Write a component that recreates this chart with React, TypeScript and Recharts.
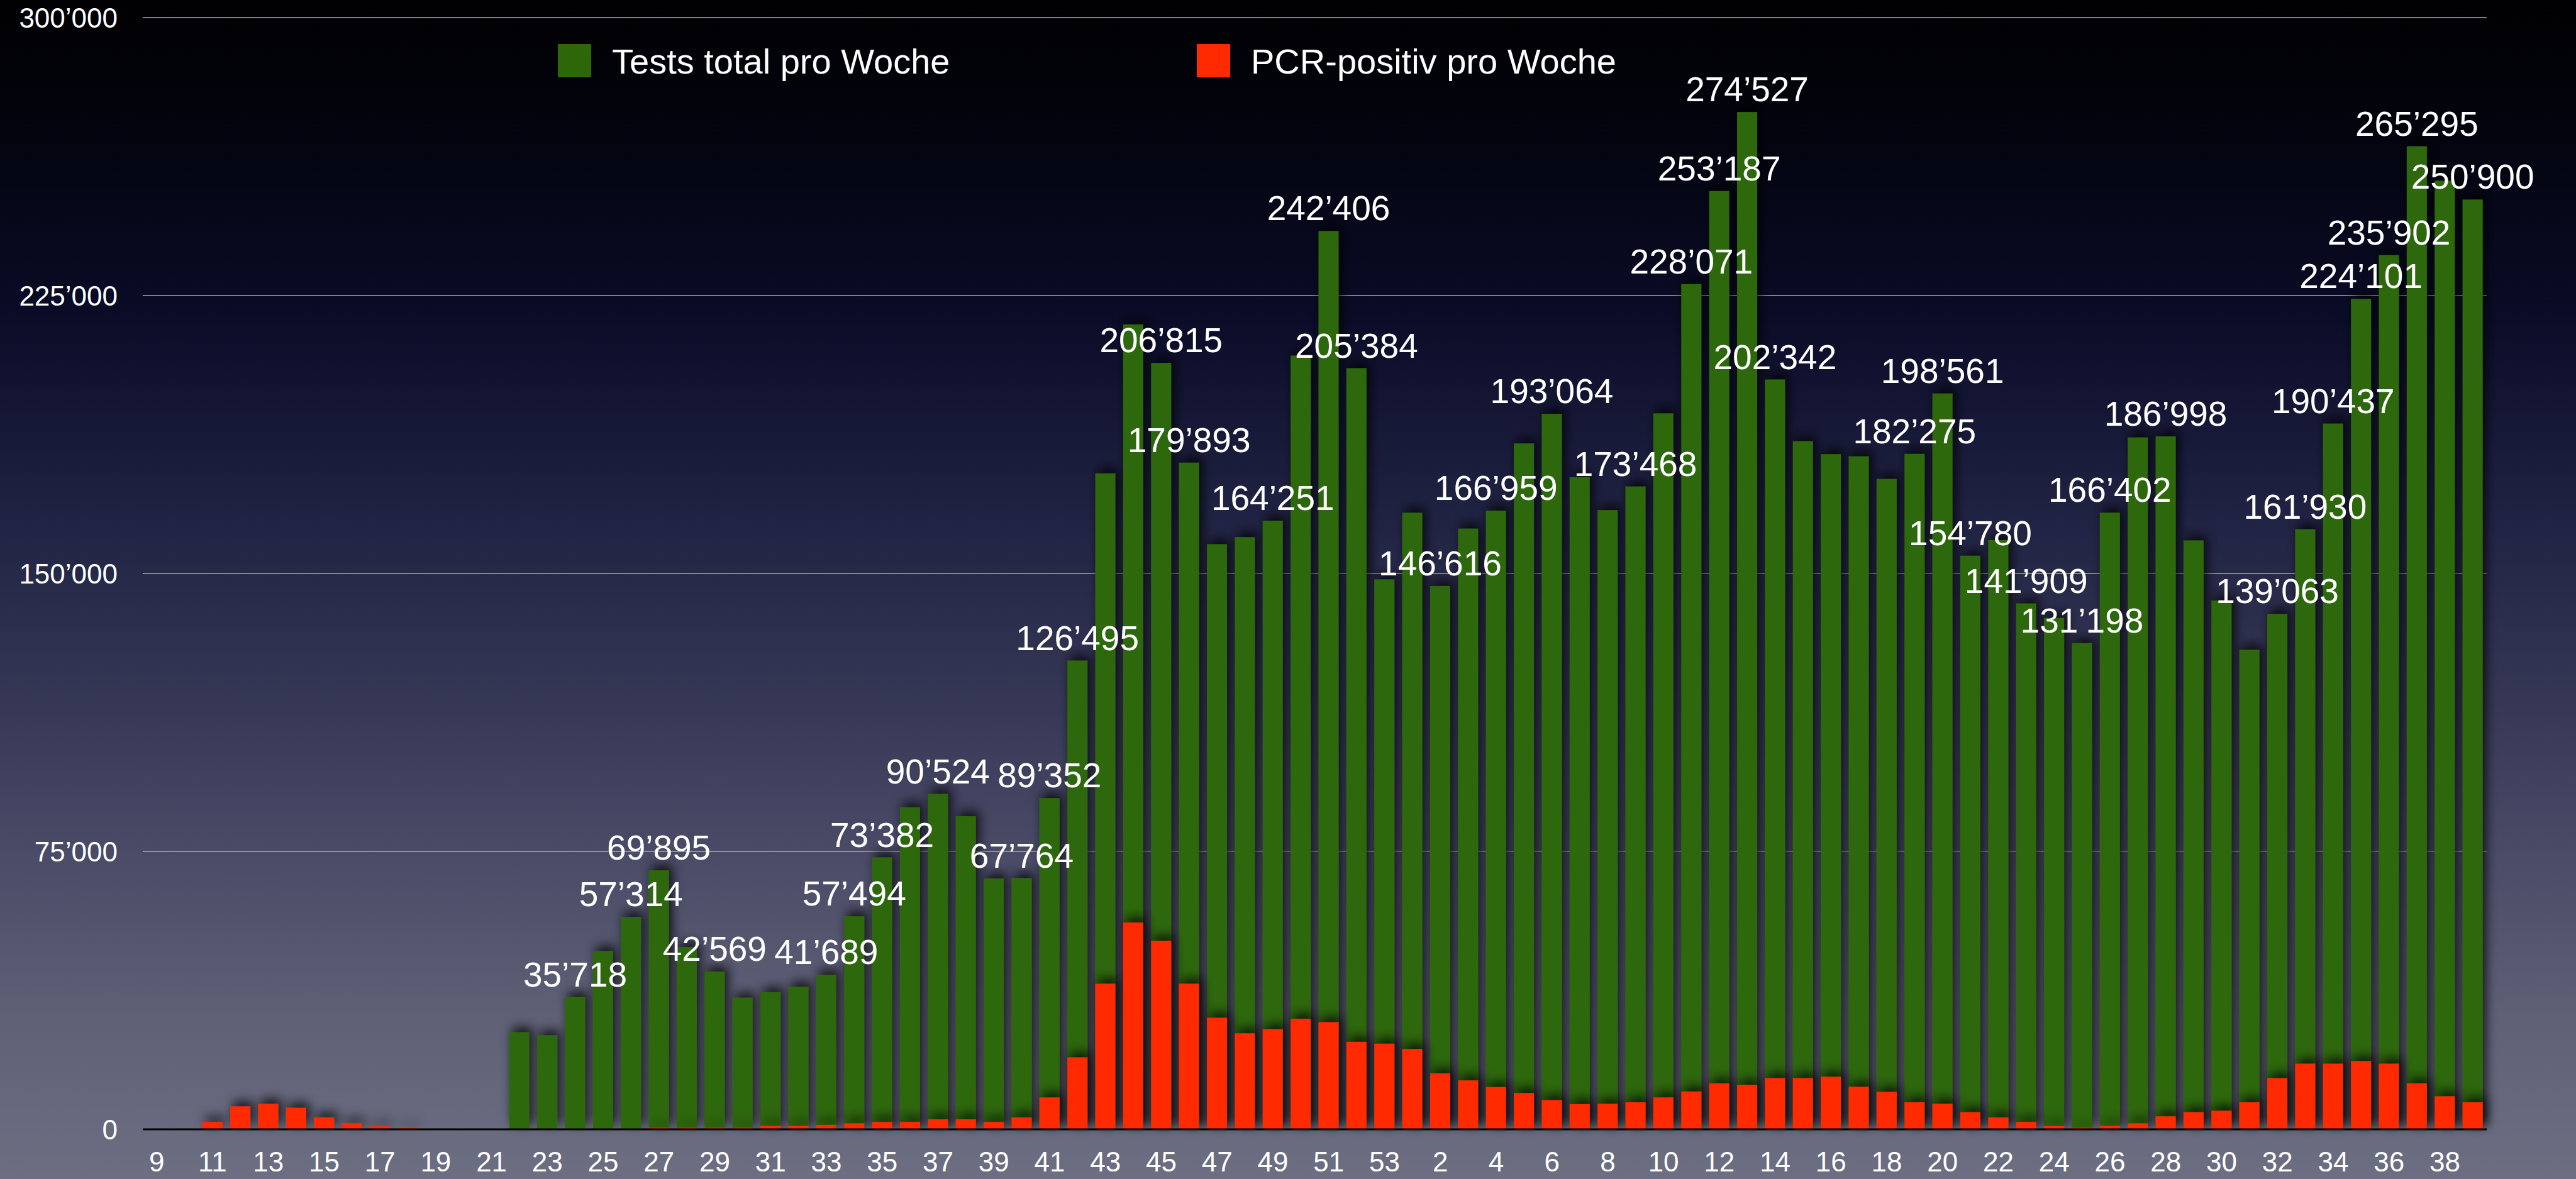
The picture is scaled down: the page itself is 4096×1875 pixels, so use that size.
import React from 'react';
import { BarChart, Bar, XAxis, YAxis, CartesianGrid, LabelList, Legend } from 'recharts';

// ---------- data ----------
const weeks2020 = [9, 10, 11, 12, 13, 14, 15, 16, 17, 18, 19, 20, 21, 22, 23, 24, 25, 26, 27, 28, 29, 30, 31, 32, 33, 34, 35, 36, 37, 38, 39, 40, 41, 42, 43, 44, 45, 46, 47, 48, 49, 50, 51, 52, 53];
const weeks2021 = [1, 2, 3, 4, 5, 6, 7, 8, 9, 10, 11, 12, 13, 14, 15, 16, 17, 18, 19, 20, 21, 22, 23, 24, 25, 26, 27, 28, 29, 30, 31, 32, 33, 34, 35, 36, 37, 38, 39];

const testsTotal2020 = [
  null, null, null, null, null, null, null, null, null, null, null, null, null,
  26200, 25400, 35718, 48100, 57314, 69895, 49200, 42569, 35500, 37000, 38500, 41689, 57494,
  73382, 86900, 90524, 84500, 67700, 67764, 89352, 126495, 177000, 217200, 206815, 179893,
  157900, 159800, 164251, 208800, 242406, 205384, 148400,
];
const testsTotal2021 = [
  166400, 146616, 162100, 166959, 185100, 193064, 176000, 167100, 173468, 193200, 228071,
  253187, 274527, 202342, 185700, 182200, 181600, 175500, 182275, 198561, 154780, 159000,
  141909, 138000, 131198, 166402, 186700, 186998, 158900, 142700, 129400, 139063, 161930,
  190437, 224101, 235902, 265295, 256000, 250900,
];

const positive2020 = [
  0, 0, 2000, 6200, 6900, 5800, 3200, 1600, 800, 400, 0, 0, 0, 0, 0, 0, 0, 0,
  400, 400, 400, 400, 900, 900, 1200, 1600, 2000, 2000, 2700, 2700, 2000, 3200, 8600, 19400,
  39300, 55800, 50900, 39300, 30100, 25900, 27000, 29800, 28900, 23600, 23100,
];
const positive2021 = [
  21700, 15100, 13200, 11400, 9800, 7900, 6800, 6900, 7300, 8600, 10200, 12400, 12000, 13800,
  13800, 14200, 11500, 10100, 7300, 6900, 4600, 3200, 2000, 900, 400, 900, 1600, 3500, 4600,
  5000, 7300, 13800, 17700, 17700, 18400, 17700, 12400, 8900, 7300,
];

const labeledWeeks2020 = [24, 26, 27, 29, 33, 34, 35, 37, 40, 41, 42, 45, 46, 49, 51, 52];
const labeledWeeks2021 = [2, 4, 6, 9, 11, 12, 13, 14, 19, 20, 21, 23, 25, 26, 28, 32, 33, 34, 35, 36, 37, 39];

const yTicks = [0, 75000, 150000, 225000, 300000];

const SERIES_TOTAL = 'Tests total pro Woche';
const SERIES_POS = 'PCR-positiv pro Woche';
const legendOrder = [SERIES_TOTAL, SERIES_POS];

// ---------- styling ----------
const GREEN = '#2e6707';
const RED = '#ff2a00';
const FONT = '"Liberation Sans", Arial, Helvetica, sans-serif';

const fmt = (v: number) => String(v).replace(/\B(?=(\d{3})+(?!\d))/g, '\u2019');

const data = [
  ...weeks2020.map((w, i) => ({
    key: `2020-${w}`,
    week: w,
    total: testsTotal2020[i],
    positive: positive2020[i],
    label: labeledWeeks2020.includes(w) && testsTotal2020[i] != null ? fmt(testsTotal2020[i] as number) : null,
  })),
  ...weeks2021.map((w, i) => ({
    key: `2021-${w}`,
    week: w,
    total: testsTotal2021[i],
    positive: positive2021[i],
    label: labeledWeeks2021.includes(w) ? fmt(testsTotal2021[i]) : null,
  })),
];

const ShadowRect = (props: any) => {
  const { x, y, width, height, fill } = props;
  if (!height || height <= 0 || !width) return <g />;
  return <rect x={x} y={y} width={width} height={height} fill={fill} filter="url(#barShadow)" />;
};

const renderValueLabel = (props: any) => {
  const { x, y, width, value } = props;
  if (value == null || value === '') return null;
  return (
    <text
      x={Number(x) + Number(width) / 2}
      y={Number(y) - 17}
      textAnchor="middle"
      fill="#ffffff"
      fontSize={55}
      fontFamily={FONT}
    >
      {value}
    </text>
  );
};

const legendX = [887, 1903];

const renderLegend = (props: any) => {
  const payload = [...(props.payload || [])].sort(
    (a: any, b: any) => legendOrder.indexOf(a.value) - legendOrder.indexOf(b.value)
  );
  return (
    <svg width={4096} height={140} style={{ display: 'block', overflow: 'visible' }}>
      {payload.map((p: any, i: number) => (
        <g key={i}>
          <rect x={legendX[i]} y={70} width={53} height={53} fill={p.color} />
          <text x={legendX[i] + 86} y={117} fill="#ffffff" fontSize={56} fontFamily={FONT}>
            {p.value}
          </text>
        </g>
      ))}
    </svg>
  );
};

export default function App() {
  return (
    <div
      style={{
        position: 'fixed',
        left: 0,
        top: 0,
        width: 4096,
        height: 1875,
        background:
          'linear-gradient(to bottom, #010103 0%, #03040f 12%, #0a0c28 27%, #222445 45%, #363856 60%, #4a4c68 73%, #5e6076 86%, #6c6e82 100%)',
        overflow: 'hidden',
      }}
    >
      <BarChart
        width={4096}
        height={1875}
        data={data}
        margin={{ top: 28, right: 142, bottom: 0, left: 0 }}
      >
        <defs>
          <filter id="barShadow" filterUnits="userSpaceOnUse" x="0" y="0" width="4096" height="1875">
            <feDropShadow dx="5" dy="-8" stdDeviation="9" floodColor="#000000" floodOpacity="0.8" />
          </filter>
        </defs>
        <CartesianGrid vertical={false} stroke="#a9a9ae" strokeWidth={1.5} />
        <XAxis
          xAxisId="a"
          dataKey="key"
          interval={1}
          height={79}
          tickLine={false}
          tickSize={0}
          tickMargin={36}
          axisLine={{ stroke: '#000000', strokeWidth: 3 }}
          tick={{ fill: '#ffffff', fontSize: 44, fontFamily: FONT }}
          tickFormatter={(k: string) => String(k).split('-')[1]}
        />
        <XAxis xAxisId="b" dataKey="key" hide />
        <YAxis
          width={227}
          domain={[0, 300000]}
          ticks={yTicks}
          interval={0}
          axisLine={false}
          tickLine={false}
          tickSize={0}
          tickMargin={40}
          tick={{ fill: '#ffffff', fontSize: 44, fontFamily: FONT }}
          tickFormatter={(v: number) => fmt(v)}
        />
        <Legend
          layout="horizontal"
          verticalAlign="middle"
          align="center"
          content={renderLegend}
          wrapperStyle={{ left: 0, top: 0, width: 4096, height: 140 }}
        />
        <Bar
          xAxisId="a"
          dataKey="total"
          name={SERIES_TOTAL}
          fill={GREEN}
          barSize={32}
          shape={ShadowRect}
          isAnimationActive={false}
        >
          <LabelList dataKey="label" content={renderValueLabel} />
        </Bar>
        <Bar
          xAxisId="b"
          dataKey="positive"
          name={SERIES_POS}
          fill={RED}
          barSize={32}
          shape={ShadowRect}
          isAnimationActive={false}
        />
      </BarChart>
    </div>
  );
}
